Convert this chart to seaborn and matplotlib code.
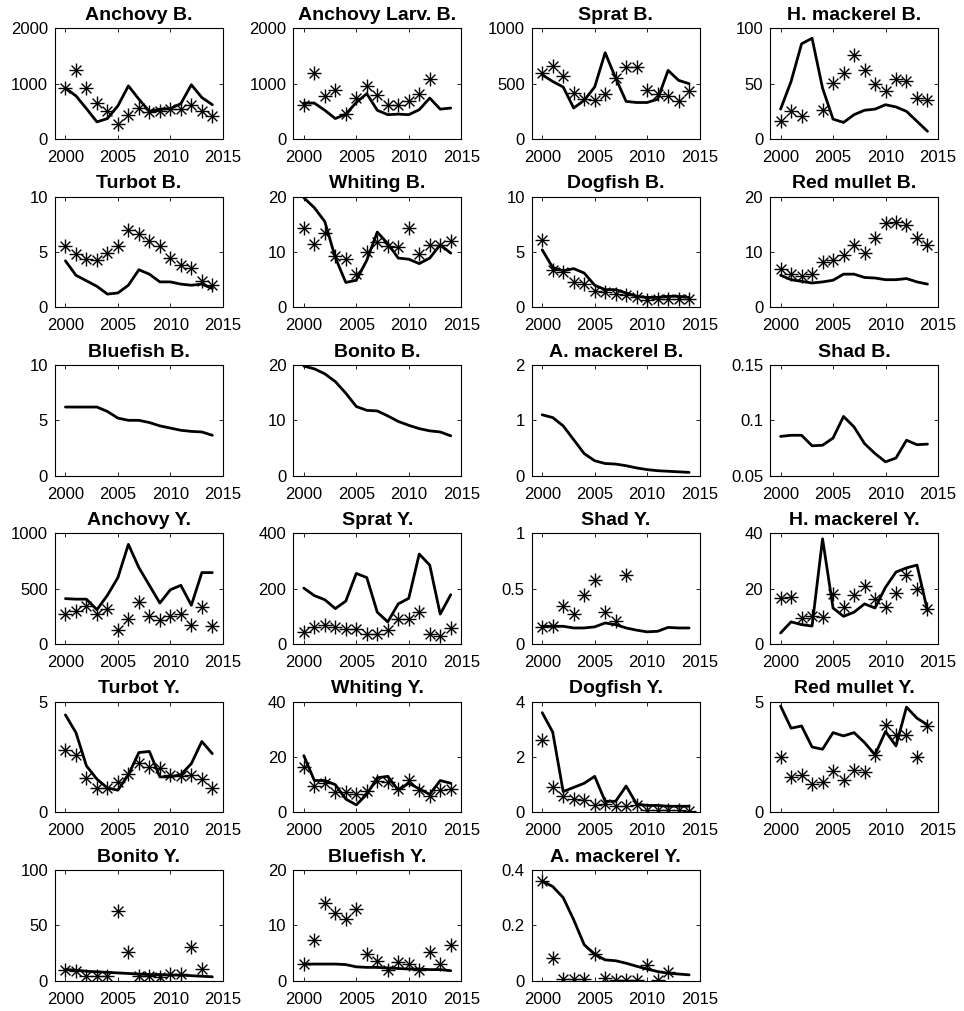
import numpy as np
import matplotlib
matplotlib.use('Agg')
import matplotlib.pyplot as plt
import seaborn as sns
from matplotlib.ticker import FuncFormatter

nan = np.nan
years = list(range(2000, 2015))

# line = model, stars = observed (nan where no observation)
anchovy_b_line = [920, 780, 550, 310, 370, 600, 960, 720, 500, 540, 550, 640, 980, 750, 620]
anchovy_b_obs = [930, 1250, 930, 660, 510, 270, 440, 560, 490, 500, 540, 540, 620, 500, 410]

anchovy_larv_b_line = [650, 650, 520, 370, 450, 660, 820, 520, 440, 450, 440, 530, 740, 540, 560]
anchovy_larv_b_obs = [620, 1200, 770, 880, 460, 750, 960, 800, 620, 620, 680, 820, 1090, nan, nan]

sprat_b_line = [580, 520, 470, 280, 350, 470, 780, 550, 340, 330, 330, 360, 620, 530, 500]
sprat_b_obs = [600, 660, 570, 420, 360, 350, 410, 550, 650, 650, 440, 410, 390, 340, 430]

hmackerel_b_line = [27, 52, 86, 91, 46, 18, 15, 22, 26, 27, 31, 29, 25, 16, 7]
hmackerel_b_obs = [16, 25, 21, nan, 26, 51, 60, 76, 62, 50, 43, 54, 52, 37, 35]

turbot_b_line = [4.2, 2.9, 2.4, 1.9, 1.2, 1.3, 2.0, 3.4, 3.0, 2.3, 2.3, 2.1, 2.0, 2.1, 1.7]
turbot_b_obs = [5.5, 4.8, 4.4, 4.3, 4.9, 5.5, 7.0, 6.6, 6.0, 5.5, 4.5, 3.8, 3.6, 2.4, 2.0]

whiting_b_line = [19.8, 18.0, 15.5, 9.0, 4.5, 4.9, 8.5, 13.6, 11.5, 8.9, 8.7, 7.9, 8.9, 11.3, 9.8]
whiting_b_obs = [14.4, 11.4, 13.4, 9.2, 8.7, 6.0, 10.0, 11.8, 11.1, 10.9, 14.4, 9.6, 11.2, 11.2, 12.0]

dogfish_b_line = [5.2, 3.6, 3.3, 3.5, 3.1, 2.0, 1.6, 1.6, 1.3, 1.0, 0.9, 0.9, 1.0, 1.0, 0.9]
dogfish_b_obs = [6.1, 3.4, 3.2, 2.3, 2.1, 1.5, 1.4, 1.2, 1.1, 0.9, 0.7, 0.8, 0.8, 0.8, 0.8]

redmullet_b_line = [5.8, 5.0, 4.7, 4.4, 4.6, 4.9, 6.0, 6.0, 5.4, 5.3, 5.0, 5.0, 5.2, 4.6, 4.2]
redmullet_b_obs = [6.9, 6.0, 5.6, 6.0, 8.2, 8.5, 9.4, 11.2, 9.9, 12.5, 15.2, 15.5, 14.8, 12.5, 11.2]

bluefish_b_line = [6.2, 6.2, 6.2, 6.2, 5.8, 5.2, 5.0, 5.0, 4.8, 4.5, 4.3, 4.1, 4.0, 3.95, 3.65]
bonito_b_line = [19.8, 19.3, 18.4, 17.0, 14.9, 12.5, 11.8, 11.7, 10.8, 9.8, 9.1, 8.5, 8.1, 7.9, 7.2]
amackerel_b_line = [1.1, 1.05, 0.9, 0.65, 0.40, 0.27, 0.22, 0.21, 0.18, 0.14, 0.11, 0.09, 0.08, 0.07, 0.06]
shad_b_line = [0.0855, 0.0865, 0.0865, 0.077, 0.0775, 0.084, 0.1035, 0.094, 0.079, 0.070, 0.0625,
               0.066, 0.082, 0.078, 0.0785]

anchovy_y_line = [410, 405, 405, 310, 440, 600, 900, 690, 530, 370, 490, 530, 350, 645, 645]
anchovy_y_obs = [275, 295, 340, 275, 320, 130, 230, 375, 250, 215, 255, 275, 170, 330, 160]

sprat_y_line = [202, 175, 160, 128, 155, 255, 240, 115, 80, 145, 165, 325, 285, 108, 178]
sprat_y_obs = [42, 60, 68, 62, 56, 55, 38, 38, 52, 90, 90, 117, 35, 30, 58]

shad_y_line = [0.16, 0.16, 0.16, 0.145, 0.145, 0.155, 0.19, 0.175, 0.145, 0.125, 0.11, 0.115, 0.15, 0.145, 0.145]
shad_y_obs = [0.15, 0.16, 0.34, 0.275, 0.44, 0.58, 0.285, 0.21, 0.62, nan, nan, nan, nan, nan, nan]

hmackerel_y_line = [4, 8, 7, 6.5, 38, 13, 10, 11.5, 14.5, 13, 20.5, 26, 27.5, 28.5, 12]
hmackerel_y_obs = [16.5, 17, 9.3, 10, 9.8, 17.9, 13.5, 17.8, 21, 16.4, 13.2, 18.6, 25, 20, 12.5]

turbot_y_line = [4.4, 3.6, 2.1, 1.5, 1.1, 1.0, 1.7, 2.7, 2.75, 1.6, 1.6, 1.7, 2.2, 3.2, 2.65]
turbot_y_obs = [2.8, 2.6, 1.55, 1.1, 1.1, 1.35, 1.75, 2.25, 2.05, 2.0, 1.7, 1.65, 1.7, 1.5, 1.1]

whiting_y_line = [20.5, 11.5, 11.5, 10, 4.8, 2.7, 6.5, 12.5, 13, 8, 10.5, 8.5, 6.5, 11.5, 10.5]
whiting_y_obs = [16.5, 9.5, 10.7, 7.2, 7.2, 6.8, 7.6, 11.5, 11, 8.6, 11.8, 8, 5.8, 7.9, 8.6]

dogfish_y_line = [3.6, 2.9, 0.75, 0.9, 1.05, 1.3, 0.4, 0.4, 0.95, 0.3, 0.25, 0.25, 0.22, 0.22, 0.22]
dogfish_y_obs = [2.6, 0.9, 0.6, 0.48, 0.45, 0.25, 0.3, 0.22, 0.22, 0.25, 0.1, 0.1, 0.07, 0.07, 0.06]

redmullet_y_line = [4.8, 3.8, 3.9, 2.95, 2.85, 3.6, 3.45, 3.6, 3.15, 2.6, 3.65, 3.0, 4.75, 4.25, 3.95]
redmullet_y_obs = [2.5, 1.6, 1.7, 1.3, 1.35, 1.85, 1.45, 1.9, 1.8, 2.6, 3.95, 3.5, 3.5, 2.5, 3.9]

bonito_y_line = [10, 9.5, 8.5, 8, 7.5, 7, 6.5, 6, 5.5, 5.5, 5, 5, 4.5, 4, 3.5]
bonito_y_obs = [9.5, 8.5, 4.5, 4.5, 4.5, 63, 26, 4.5, 4.5, 3.5, 6, 6, 30, 10.5, nan]

bluefish_y_line = [3.0, 3.0, 3.0, 3.0, 2.9, 2.5, 2.4, 2.4, 2.3, 2.2, 2.1, 2.1, 2.0, 2.0, 1.8]
bluefish_y_obs = [3.0, 7.3, 14.0, 12.2, 11.1, 12.9, 4.8, 3.5, 1.9, 3.3, 3.1, 1.9, 5.1, 3.0, 6.4]

amackerel_y_line = [0.36, 0.34, 0.30, 0.22, 0.13, 0.095, 0.075, 0.072, 0.063, 0.052, 0.042, 0.033, 0.027,
                    0.024, 0.021]
amackerel_y_obs = [0.36, 0.083, 0.005, 0.005, 0.005, 0.098, 0.008, 0.003, 0.003, 0.003, 0.058, 0.002, 0.03,
                   nan, nan]

titles = ['Anchovy B.', 'Anchovy Larv. B.', 'Sprat B.', 'H. mackerel B.',
          'Turbot B.', 'Whiting B.', 'Dogfish B.', 'Red mullet B.',
          'Bluefish B.', 'Bonito B.', 'A. mackerel B.', 'Shad B.',
          'Anchovy Y.', 'Sprat Y.', 'Shad Y.', 'H. mackerel Y.',
          'Turbot Y.', 'Whiting Y.', 'Dogfish Y.', 'Red mullet Y.',
          'Bonito Y.', 'Bluefish Y.', 'A. mackerel Y.']

lines = [anchovy_b_line, anchovy_larv_b_line, sprat_b_line, hmackerel_b_line,
         turbot_b_line, whiting_b_line, dogfish_b_line, redmullet_b_line,
         bluefish_b_line, bonito_b_line, amackerel_b_line, shad_b_line,
         anchovy_y_line, sprat_y_line, shad_y_line, hmackerel_y_line,
         turbot_y_line, whiting_y_line, dogfish_y_line, redmullet_y_line,
         bonito_y_line, bluefish_y_line, amackerel_y_line]

obs = [anchovy_b_obs, anchovy_larv_b_obs, sprat_b_obs, hmackerel_b_obs,
       turbot_b_obs, whiting_b_obs, dogfish_b_obs, redmullet_b_obs,
       None, None, None, None,
       anchovy_y_obs, sprat_y_obs, shad_y_obs, hmackerel_y_obs,
       turbot_y_obs, whiting_y_obs, dogfish_y_obs, redmullet_y_obs,
       bonito_y_obs, bluefish_y_obs, amackerel_y_obs]

ylims = [(0, 2000), (0, 2000), (0, 1000), (0, 100),
         (0, 10), (0, 20), (0, 10), (0, 20),
         (0, 10), (0, 20), (0, 2), (0.05, 0.15),
         (0, 1000), (0, 400), (0, 1), (0, 40),
         (0, 5), (0, 40), (0, 4), (0, 5),
         (0, 100), (0, 20), (0, 0.4)]

# panels with only min/max y tick
two_ticks = ['Turbot Y.', 'Red mullet Y.']


sns.set_style('ticks')
plt.rcParams['font.family'] = ['Liberation Sans', 'DejaVu Sans']
plt.rcParams.update({
    'xtick.direction': 'in', 'ytick.direction': 'in',
    'xtick.top': True, 'ytick.right': True,
    'xtick.major.size': 3, 'ytick.major.size': 3,
    'xtick.major.width': 0.6, 'ytick.major.width': 0.6,
    'xtick.major.pad': 8, 'ytick.major.pad': 5,
    'axes.linewidth': 0.8, 'axes.edgecolor': 'black',
    'xtick.color': 'black', 'ytick.color': 'black',
    'text.color': 'black', 'axes.labelcolor': 'black',
    'font.size': 12,
})

fig, axes = plt.subplots(6, 4, figsize=(9.64, 10.11), dpi=100)
fig.subplots_adjust(left=0.057, right=0.973, top=0.972, bottom=0.030, wspace=0.42, hspace=0.52)
axes = axes.ravel()

for i in range(len(titles)):
    ax = axes[i]
    sns.lineplot(x=years, y=lines[i], ax=ax, color='black', linewidth=2)
    if obs[i] is not None:
        # matlab style asterisk = plus + cross
        sns.scatterplot(x=years, y=obs[i], ax=ax, marker='+', s=100, color='black', linewidth=1)
        sns.scatterplot(x=years, y=obs[i], ax=ax, marker='x', s=50, color='black', linewidth=1)
        sns.scatterplot(x=years, y=obs[i], ax=ax, marker='o', s=6, color='black', linewidth=0)
    lo, hi = ylims[i]
    ax.set_xlim(1999, 2015)
    ax.set_ylim(lo, hi)
    ax.set_xticks([2000, 2005, 2010, 2015])
    if titles[i] in two_ticks:
        ax.set_yticks([lo, hi])
    else:
        ax.set_yticks([lo, (lo + hi) / 2, hi])
    ax.yaxis.set_major_formatter(FuncFormatter(lambda v, p: '%g' % round(v, 4)))
    ax.set_title(titles[i], fontsize=14, fontweight='bold', pad=6)
    ax.set_xlabel('')
    ax.set_ylabel('')
    for sp in ax.spines.values():
        sp.set_visible(True)

axes[-1].axis('off')

plt.savefig('out.png', dpi=100)
